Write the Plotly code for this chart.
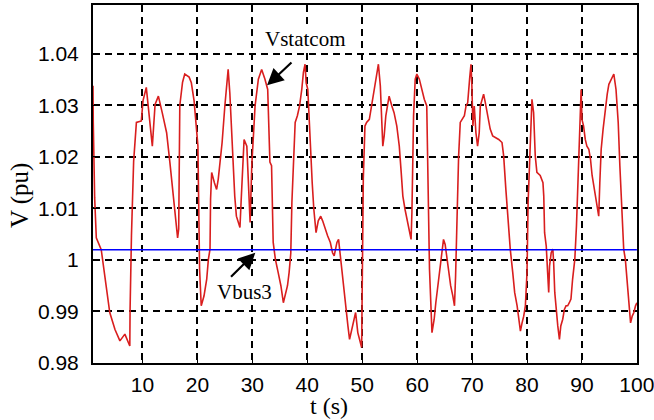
import plotly.graph_objects as go

# Time (s) and Vstatcom (pu)
t = [1.0, 1.05, 1.3, 1.6, 2.5, 3.1, 4.05, 5.0, 5.9, 6.8, 7.7, 7.75, 8.0, 8.4, 8.9, 9.8,
     10.1, 10.7, 11.2, 11.8, 12.3, 12.9, 13.6, 14.4, 15.0, 15.6, 16.0, 16.4, 16.6, 16.8,
     17.3, 17.7, 18.5, 18.9, 19.4, 20.1, 20.4, 20.7, 21.2, 21.7, 22.0, 22.3, 22.4, 22.6,
     23.1, 23.5, 23.8, 24.1, 24.5, 25.0, 25.3, 25.6, 25.9, 26.2, 26.5, 26.8, 27.1, 27.75,
     27.95, 28.2, 28.5, 29.0, 29.3, 29.6, 29.9, 30.5, 31.1, 31.7, 32.3, 32.8, 33.2, 33.5,
     33.8, 34.2, 34.7, 35.2, 35.65, 36.0, 36.4, 36.7, 37.0, 37.2, 37.5, 37.8, 38.2, 38.6,
     39.0, 39.3, 39.6, 39.8, 40.1, 40.3, 40.6, 40.9, 41.2, 41.6, 42.0, 42.45, 42.8, 43.25,
     43.7, 44.2, 44.6, 44.9, 45.4, 45.7, 46.0, 46.3, 46.6, 47.0, 47.4, 47.7, 48.1, 48.5,
     48.8, 49.2, 49.6, 49.9, 50.0, 50.2, 50.5, 50.8, 51.3, 51.7, 52.05, 52.4, 52.65, 52.95,
     53.3, 53.55, 53.75, 54.0, 54.3, 54.6, 54.9, 55.4, 55.8, 56.3, 56.75, 57.1, 57.4, 57.8,
     58.25, 58.6, 58.9, 59.05, 59.2, 59.35, 59.65, 59.95, 60.4, 60.85, 61.3, 61.75, 61.95,
     62.25, 62.7, 63.1, 63.4, 63.7, 64.1, 64.5, 64.8, 65.1, 65.7, 66.1, 66.5, 66.8, 67.0,
     67.3, 67.55, 67.85, 68.15, 68.6, 68.9, 69.2, 69.55, 69.8, 69.95, 70.15, 70.4, 70.7,
     71.0, 71.3, 71.5, 71.8, 72.1, 72.4, 72.7, 73.0, 73.3, 73.75, 74.2, 74.85, 75.45, 75.75,
     76.15, 76.55, 76.95, 77.4, 77.75, 78.2, 78.5, 78.8, 79.1, 79.4, 79.7, 80.0, 80.2,
     80.45, 80.7, 80.9, 81.2, 81.5, 81.8, 82.4, 82.9, 83.05, 83.2, 83.5, 83.75, 83.95, 84.1,
     84.4, 84.7, 84.85, 85.05, 85.35, 85.6, 85.9, 86.15, 86.5, 86.8, 87.1, 87.4, 87.7, 88.0,
     88.3, 88.7, 89.0, 89.3, 89.55, 89.85, 90.0, 90.3, 90.6, 90.9, 91.25, 91.55, 91.85,
     92.15, 92.45, 92.75, 93.05, 93.25, 93.5, 93.85, 94.3, 94.6, 94.9, 95.3, 95.8, 96.2,
     96.6, 96.9, 97.2, 97.6, 97.9, 98.2, 98.5, 98.85, 99.15, 99.45, 99.75, 100.0]

v_statcom = [1.0338, 1.0267, 1.0121, 1.0043, 1.0020, 0.9976, 0.9898, 0.9865, 0.9843, 0.9856,
             0.9833, 0.9904, 1.0047, 1.0192, 1.0267, 1.0270, 1.0309, 1.0335, 1.0280, 1.0221,
             1.0302, 1.0318, 1.0286, 1.0247, 1.0189, 1.0124, 1.0092, 1.0043, 1.0060, 1.0300,
             1.0345, 1.0361, 1.0355, 1.0344, 1.0309, 1.0221, 0.9982, 0.9911, 0.9930, 0.9963,
             1.0001, 1.0021, 1.0118, 1.0170, 1.0150, 1.0137, 1.0157, 1.0189, 1.0228, 1.0299,
             1.0344, 1.0370, 1.0325, 1.0254, 1.0183, 1.0124, 1.0085, 1.0063, 1.0111, 1.0163,
             1.0234, 1.0221, 1.0157, 1.0073, 1.0183, 1.0299, 1.0351, 1.0370, 1.0351, 1.0331,
             1.0190, 1.0183, 1.0034, 1.0001, 0.9976, 0.9950, 0.9917, 0.9930, 0.9950, 0.9976,
             1.0013, 1.0111, 1.0202, 1.0267, 1.0280, 1.0299, 1.0331, 1.0364, 1.0380, 1.0344,
             1.0331, 1.0280, 1.0215, 1.0150, 1.0098, 1.0053, 1.0076, 1.0085, 1.0076, 1.0060,
             1.0047, 1.0034, 1.0014, 1.0008, 1.0034, 1.0040, 1.0008, 0.9976, 0.9943, 0.9904,
             0.9872, 0.9846, 0.9865, 0.9885, 0.9898, 0.9859, 0.9840, 0.9830, 0.9943, 1.0157,
             1.0260, 1.0267, 1.0273, 1.0299, 1.0325, 1.0344, 1.0364, 1.0380, 1.0338, 1.0260,
             1.0221, 1.0241, 1.0280, 1.0299, 1.0318, 1.0299, 1.0286, 1.0260, 1.0221, 1.0170,
             1.0124, 1.0098, 1.0073, 1.0053, 1.0040, 1.0092, 1.0209, 1.0280, 1.0351, 1.0361,
             1.0351, 1.0331, 1.0312, 1.0299, 1.0183, 0.9982, 0.9859, 0.9885, 0.9917, 0.9943,
             0.9976, 1.0014, 1.0040, 1.0030, 0.9982, 0.9950, 0.9930, 0.9911, 0.9969, 1.0092,
             1.0202, 1.0267, 1.0273, 1.0280, 1.0299, 1.0305, 1.0351, 1.0380, 1.0344, 1.0260,
             1.0299, 1.0247, 1.0221, 1.0247, 1.0299, 1.0312, 1.0322, 1.0306, 1.0286, 1.0273,
             1.0254, 1.0241, 1.0238, 1.0234, 1.0228, 1.0202, 1.0137, 1.0079, 1.0021, 0.9976,
             0.9937, 0.9911, 0.9885, 0.9862, 0.9878, 0.9891, 0.9911, 0.9976, 1.0111, 1.0183,
             1.0260, 1.0312, 1.0286, 1.0202, 1.0170, 1.0164, 1.0150, 1.0124, 1.0053, 1.0027,
             0.9976, 0.9937, 0.9988, 1.0014, 1.0021, 0.9995, 0.9937, 0.9898, 0.9872, 0.9846,
             0.9872, 0.9885, 0.9904, 0.9911, 0.9911, 0.9917, 0.9924, 0.9963, 1.0001, 1.0066,
             1.0170, 1.0273, 1.0331, 1.0273, 1.0260, 1.0234, 1.0221, 1.0215, 1.0196, 1.0164,
             1.0144, 1.0124, 1.0105, 1.0085, 1.0150, 1.0215, 1.0254, 1.0299, 1.0322, 1.0341,
             1.0351, 1.0361, 1.0331, 1.0267, 1.0183, 1.0105, 1.0021, 1.0001, 0.9956, 0.9917,
             0.9878, 0.9891, 0.9898, 0.9911, 0.9917]

t_bus = [1, 100]
v_bus3 = [1.002, 1.002]

x_ticks = [10, 20, 30, 40, 50, 60, 70, 80, 90, 100]
x_ticktext = ["10", "20", "30", "40", "50", "60", "70", "80", "90", "100"]
y_ticks = [0.98, 0.99, 1.00, 1.01, 1.02, 1.03, 1.04]
y_ticktext = ["0.98", "0.99", "1", "1.01", "1.02", "1.03", "1.04"]

fig = go.Figure()
fig.add_trace(go.Scatter(x=t, y=v_statcom, mode="lines", name="Vstatcom",
                         line=dict(color="#d91e1e", width=1.6)))
fig.add_trace(go.Scatter(x=t_bus, y=v_bus3, mode="lines", name="Vbus3",
                         line=dict(color="#0000ff", width=1.6)))

axis_common = dict(showline=True, linecolor="black", linewidth=2, mirror=True,
                   showgrid=True, gridcolor="black", gridwidth=1.8, griddash="7px,5px",
                   zeroline=False, ticks="inside", ticklen=4, tickcolor="black",
                   ticklabeloverflow="allow", automargin=False,
                   tickfont=dict(family="Liberation Sans", size=21, color="black"))

fig.update_xaxes(range=[1, 100.02], tickvals=x_ticks, ticktext=x_ticktext,
                 ticklabelstandoff=2, **axis_common)
fig.update_yaxes(range=[0.98, 1.0495], tickvals=y_ticks, ticktext=y_ticktext,
                 ticklabelstandoff=8, **axis_common)

serif = dict(family="Liberation Serif", size=21, color="black")
title_font = dict(family="Liberation Serif", size=24, color="black")

annotations = [
    dict(x=39.5, y=1.04285, xref="x", yref="y", text="Vstatcom", showarrow=False,
         font=serif, bgcolor="white", borderpad=0),
    dict(x=28.54, y=0.99373, xref="x", yref="y", text="Vbus3", showarrow=False,
         font=serif, bgcolor="white", borderpad=0),
    dict(x=32.68, y=1.0339, xref="x", yref="y", ax=37.4, ay=1.0386, axref="x", ayref="y",
         text="", showarrow=True, arrowhead=2, arrowsize=1.5, arrowwidth=2.2,
         arrowcolor="black", standoff=0),
    dict(x=30.54, y=1.0014, xref="x", yref="y", ax=25.85, ay=0.99645, axref="x", ayref="y",
         text="", showarrow=True, arrowhead=2, arrowsize=1.5, arrowwidth=2.2,
         arrowcolor="black", standoff=0),
    dict(x=0, y=0.469, xref="paper", yref="paper", text="V (pu)", textangle=-90,
         showarrow=False, xanchor="center", yanchor="middle", xshift=-73,
         font=dict(family="Liberation Serif", size=25, color="black")),
    dict(x=0.434, y=0, xref="paper", yref="paper", text="t (s)", showarrow=False,
         xanchor="center", yanchor="middle", yshift=-43, font=title_font),
]

fig.update_layout(width=654, height=420, margin=dict(l=93, r=17, t=5, b=57),
                  paper_bgcolor="white", plot_bgcolor="white", showlegend=False,
                  annotations=annotations)

fig.write_html("out.html")
